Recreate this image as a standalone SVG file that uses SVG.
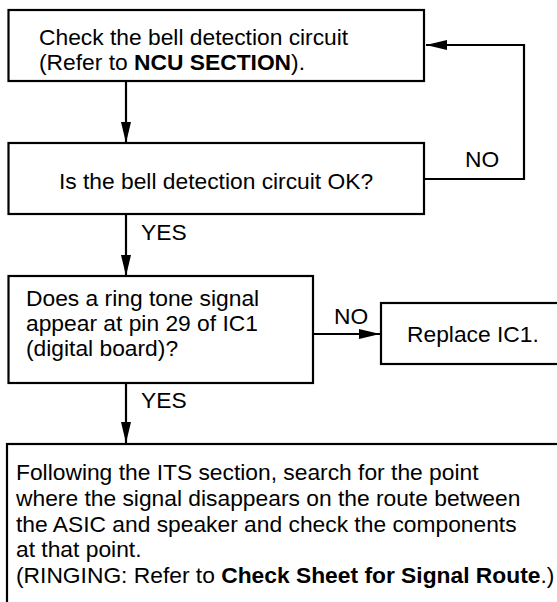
<svg xmlns="http://www.w3.org/2000/svg" width="557" height="602" viewBox="0 0 557 602">
<style>
.box{fill:#fff;stroke:#000;stroke-width:2.2}
.t{font-family:"Liberation Sans",Arial,Helvetica,sans-serif;font-size:22.8px;fill:#000}
.b{font-weight:bold}
.c{fill:none;stroke:#000;stroke-width:2.2}
</style>
<defs>
<marker id="ah" markerUnits="userSpaceOnUse" markerWidth="22" markerHeight="12" refX="21" refY="6" orient="auto">
<path d="M0,1 L21,6 L0,11 Z" fill="#000"/>
</marker>
</defs>
<rect width="557" height="602" fill="#fff"/>
<g id="connectors">
<line class="c" x1="126" y1="81" x2="126" y2="143" marker-end="url(#ah)"/>
<polyline class="c" points="424,179 524,179 524,45 426,45" marker-end="url(#ah)"/>
<text class="t" x="465" y="167">NO</text>
<line class="c" x1="126" y1="214" x2="126" y2="276" marker-end="url(#ah)"/>
<text class="t" x="141" y="240">YES</text>
<line class="c" x1="313" y1="334" x2="380" y2="334" marker-end="url(#ah)"/>
<text class="t" x="334" y="324">NO</text>
<line class="c" x1="126" y1="383" x2="126" y2="443" marker-end="url(#ah)"/>
<text class="t" x="141" y="408">YES</text>
</g>
<g id="n1">
<rect class="box" x="8.5" y="10" width="415.5" height="71"/>
<text class="t" x="39" y="45">Check the bell detection circuit</text>
<text class="t" x="39" y="70">(Refer to <tspan class="b">NCU SECTION</tspan>).</text>
</g>
<g id="n2">
<rect class="box" x="8.5" y="143" width="415.5" height="71"/>
<text class="t" x="216" y="189" text-anchor="middle">Is the bell detection circuit OK?</text>
</g>
<g id="n3">
<rect class="box" x="8.5" y="276" width="304.5" height="107"/>
<text class="t" x="26" y="306">Does a ring tone signal</text>
<text class="t" x="26" y="331">appear at pin 29 of IC1</text>
<text class="t" x="26" y="356">(digital board)?</text>
</g>
<g id="n4">
<rect class="box" x="381" y="303" width="190" height="61"/>
<text class="t" x="407" y="342">Replace IC1.</text>
</g>
<g id="n5">
<rect class="box" x="7" y="444" width="570" height="180"/>
<text class="t" x="16" y="480">Following the ITS section, search for the point</text>
<text class="t" x="16" y="506">where the signal disappears on the route between</text>
<text class="t" x="16" y="532">the ASIC and speaker and check the components</text>
<text class="t" x="16" y="557">at that point.</text>
<text class="t" x="16" y="583">(RINGING: Refer to <tspan class="b">Check Sheet for Signal Route</tspan>.)</text>
</g>
</svg>
